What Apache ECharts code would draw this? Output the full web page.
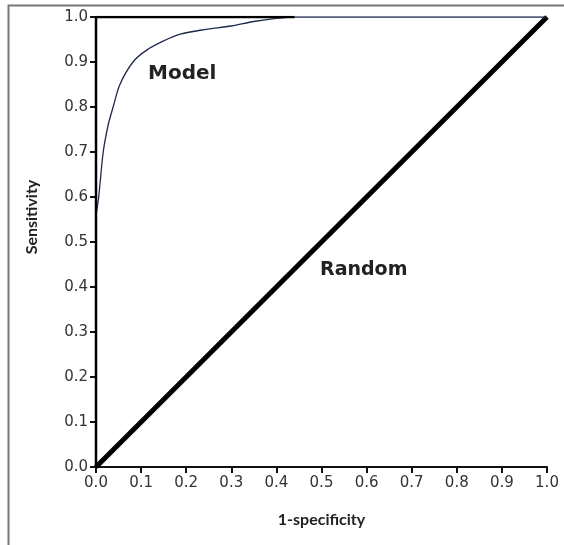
<!DOCTYPE html>
<html><head><meta charset="utf-8">
<script src="https://cdn.jsdelivr.net/npm/echarts@6/dist/echarts.min.js"></script>
<style>html,body{margin:0;padding:0;background:#fff}#c{width:564px;height:545px}</style>
</head><body><div id="c"></div>
<script>
const xTicks = [0,0.1,0.2,0.3,0.4,0.5,0.6,0.7,0.8,0.9,1.0];
const yTicks = [0,0.1,0.2,0.3,0.4,0.5,0.6,0.7,0.8,0.9,1.0];
const modelFpr = [0, 0.006, 0.016, 0.027, 0.038, 0.053, 0.082, 0.113, 0.15, 0.187, 0.24, 0.3, 0.35, 0.4, 0.44, 1.0];
const modelTpr = [0.56, 0.6, 0.7, 0.76, 0.8, 0.85, 0.9, 0.927, 0.947, 0.962, 0.972, 0.98, 0.99, 0.997, 1.0, 1.0];
const randomFpr = [0, 1];
const randomTpr = [0, 1];
const perfectFpr = [0, 0, 0.44];
const perfectTpr = [0, 1, 1];

const chart = echarts.init(document.getElementById('c'));
const tickFont = {fontFamily:'DejaVu Sans', fontSize:15, color:'#333'};
chart.setOption({
  animation:false,
  grid:{left:96, top:17, right:17, bottom:78},
  xAxis:{type:'value', min:0, max:1, interval:0.1,
    name:'1-specificity', nameLocation:'middle', nameGap:45,
    nameTextStyle:{fontFamily:'Lato', fontWeight:'bold', fontSize:16, color:'#222'},
    axisLine:{lineStyle:{color:'#111', width:2}},
    axisTick:{length:6, lineStyle:{color:'#111', width:2}},
    axisLabel:Object.assign({formatter:v=>v.toFixed(1), margin:9}, tickFont),
    splitLine:{show:false}},
  yAxis:{type:'value', min:0, max:1, interval:0.1,
    name:'Sensitivity', nameLocation:'middle', nameGap:56, nameRotate:90,
    nameTextStyle:{fontFamily:'Lato', fontWeight:'bold', fontSize:16, color:'#222', padding:[0,0,0,50]},
    axisLine:{lineStyle:{color:'#111', width:2}},
    axisTick:{length:6, lineStyle:{color:'#111', width:2}},
    axisLabel:Object.assign({formatter:v=>v.toFixed(1), margin:8}, tickFont),
    splitLine:{show:false}},
  series:[
    {type:'line', data:randomFpr.map((x,i)=>[x,randomTpr[i]]), symbol:'none',
     lineStyle:{color:'#000', width:5}},
    {type:'line', data:modelFpr.map((x,i)=>[x,modelTpr[i]]), symbol:'none', smooth:0.3,
     lineStyle:{color:'#1d2a4a', width:1.3}},
    {type:'line', data:perfectFpr.map((x,i)=>[x,perfectTpr[i]]), symbol:'none',
     lineStyle:{color:'#000', width:2.5}}
  ],
  graphic:[
    {type:'rect', shape:{x:8.5, y:5.5, width:600, height:600}, style:{fill:'none', stroke:'#777', lineWidth:2}, z:-1},
    {type:'text', left:148, top:64, style:{text:'Model', fontFamily:'DejaVu Sans', fontWeight:'bold', fontSize:20, fill:'#222'}},
    {type:'text', left:320, top:261, style:{text:'Random', fontFamily:'DejaVu Sans', fontWeight:'bold', fontSize:19, fill:'#222'}}
  ]
});
</script></body></html>
